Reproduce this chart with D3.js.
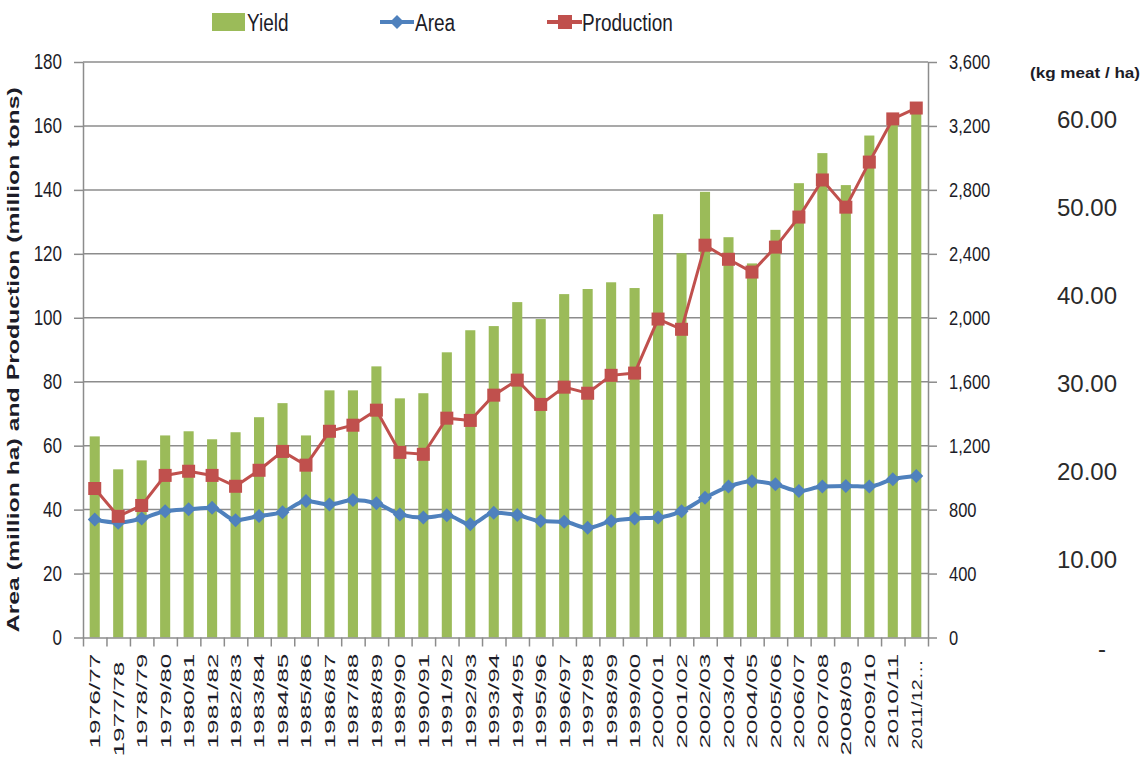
<!DOCTYPE html>
<html>
<head>
<meta charset="utf-8">
<script src="https://cdn.jsdelivr.net/npm/d3@7"></script>
<style>
  body { margin: 0; background: #fff; }
  svg { font-family: "Liberation Sans", Arial, sans-serif; }
  .tall { transform-box: fill-box; transform-origin: center; transform: scaleY(1.25); }
</style>
</head>
<body>
<svg id="chart" width="1144" height="759"></svg>
<script>
// data
const categories = ["1976/77","1977/78","1978/79","1979/80","1980/81","1981/82","1982/83","1983/84",
  "1984/85","1985/86","1986/87","1987/88","1988/89","1989/90","1990/91","1991/92","1992/93","1993/94",
  "1994/95","1995/96","1996/97","1997/98","1998/99","1999/00","2000/01","2001/02","2002/03","2003/04",
  "2004/05","2005/06","2006/07","2007/08","2008/09","2009/10","2010/11","2011/12…"];

// yield, on the right axis (0 - 3,600)
const yieldVals = [1258,1052,1108,1264,1290,1240,1284,1378,1466,1264,1546,1546,1696,1496,1528,1784,
  1922,1948,2098,1992,2148,2180,2222,2186,2648,2404,2788,2504,2340,2550,2842,3030,2830,3140,3220,3290];

// million ha
const areaVals = [36.9,35.9,37.2,39.5,40.1,40.6,36.7,38.0,39.2,42.7,41.6,43.0,42.0,38.5,37.5,38.2,
  35.4,39.0,38.3,36.4,36.2,34.3,36.4,37.2,37.5,39.5,43.7,47.2,48.9,47.9,45.8,47.2,47.4,47.2,49.5,50.5];

// million tons
const productionVals = [46.6,37.9,41.3,50.7,52.0,50.7,47.3,52.3,58.2,53.9,64.5,66.4,71.1,57.9,57.3,
  68.6,67.9,75.8,80.5,72.9,78.3,76.4,82.0,82.7,99.6,96.4,122.7,118.3,114.3,122.1,131.5,143.1,134.6,
  148.7,162.2,165.6];

const leftTicks = [0,20,40,60,80,100,120,140,160,180];
const rightTicks = [0,400,800,1200,1600,2000,2400,2800,3200,3600];
const meatTicks = [0,10,20,30,40,50,60];

const colors = {yield: "#9bbb59", area: "#4f81bd", production: "#c0504d", grid: "#8c8c8c", text: "#1c1c28"};

const svg = d3.select("#chart");
const plotLeft = 83, plotRight = 928, plotTop = 62, plotBottom = 637.5;

const x = d3.scaleBand().domain(categories).range([plotLeft, plotRight])
    .paddingInner(0.57).paddingOuter(0.285);
const cx = d => x(d) + x.bandwidth() / 2;
const yL = d3.scaleLinear().domain([0, 180]).range([plotBottom, plotTop]);
const yR = d3.scaleLinear().domain([0, 3600]).range([plotBottom, plotTop]);
const yM = d3.scaleLinear().domain([0, 60]).range([648, 119]);

// gridlines
svg.append("g").selectAll("line")
    .data(leftTicks.filter(d => d > 0))
    .join("line")
    .attr("x1", plotLeft).attr("x2", plotRight)
    .attr("y1", d => yL(d)).attr("y2", d => yL(d))
    .attr("stroke", colors.grid).attr("stroke-width", 1.5);

// bars
svg.append("g").selectAll("rect")
    .data(categories)
    .join("rect")
    .attr("x", d => x(d))
    .attr("width", x.bandwidth())
    .attr("y", (d, i) => yR(yieldVals[i]))
    .attr("height", (d, i) => plotBottom - yR(yieldVals[i]))
    .attr("fill", colors.yield);

// axes
function styleAxis(g) {
  g.select(".domain").attr("stroke", colors.grid).attr("stroke-width", 1.5);
  g.selectAll(".tick line").attr("stroke", colors.grid).attr("stroke-width", 1.5);
  g.selectAll("text").attr("fill", colors.text);
}

svg.append("g")
    .attr("transform", "translate(" + plotLeft + ",0)")
    .call(d3.axisLeft(yL).tickValues(leftTicks).tickSize(9).tickPadding(12).tickSizeOuter(0))
    .call(styleAxis)
    .selectAll("text").attr("font-size", 17).attr("class", "tall");

svg.append("g")
    .attr("transform", "translate(" + plotRight + ",0)")
    .call(d3.axisRight(yR).tickValues(rightTicks).tickSize(9).tickPadding(12).tickSizeOuter(0)
      .tickFormat(d3.format(",")))
    .call(styleAxis)
    .selectAll("text").attr("font-size", 16.5).attr("class", "tall");

// category boundary ticks
const xb = d3.scaleLinear().domain([0, categories.length]).range([plotLeft, plotRight]);
svg.append("g")
    .attr("transform", "translate(0," + plotBottom + ")")
    .call(d3.axisBottom(xb).ticks(categories.length).tickSize(9).tickSizeOuter(0).tickFormat(""))
    .call(styleAxis);

// category labels (a couple sit lower, as in the original)
const labelShift = {"1977/78": 8, "2008/09": 7, "2011/12…": 6};
svg.append("g").selectAll("text")
    .data(categories)
    .join("text")
    .attr("transform", d => "translate(" + cx(d) + "," + (plotBottom + 16 + (labelShift[d] || 0)) + ") rotate(-90)")
    .attr("dy", "0.36em")
    .attr("text-anchor", "end")
    .attr("font-size", 15)
    .attr("textLength", d => d.endsWith("…") ? 90 : 95)
    .attr("lengthAdjust", "spacingAndGlyphs")
    .attr("fill", colors.text)
    .text(d => d);

// area line (smoothed) and production line
const areaLine = d3.line().x((d, i) => cx(categories[i])).y(d => yL(d)).curve(d3.curveMonotoneX);
const prodLine = d3.line().x((d, i) => cx(categories[i])).y(d => yL(d));

svg.append("path").datum(areaVals)
    .attr("d", areaLine).attr("fill", "none")
    .attr("stroke", colors.area).attr("stroke-width", 4);
svg.append("g").selectAll("path")
    .data(areaVals)
    .join("path")
    .attr("transform", (d, i) => "translate(" + cx(categories[i]) + "," + yL(d) + ")")
    .attr("d", "M0,-7L7,0L0,7L-7,0Z")
    .attr("fill", colors.area);

svg.append("path").datum(productionVals)
    .attr("d", prodLine).attr("fill", "none")
    .attr("stroke", colors.production).attr("stroke-width", 3);
svg.append("g").selectAll("rect")
    .data(productionVals)
    .join("rect")
    .attr("x", (d, i) => cx(categories[i]) - 6.5)
    .attr("y", d => yL(d) - 6.5)
    .attr("width", 13).attr("height", 13)
    .attr("fill", colors.production);

// third axis: kg meat / ha
svg.append("text")
    .attr("x", 1030).attr("y", 78)
    .attr("font-size", 14).attr("font-weight", "bold")
    .attr("textLength", 110).attr("lengthAdjust", "spacingAndGlyphs")
    .attr("fill", colors.text)
    .text("(kg meat / ha)");
svg.append("g").selectAll("text")
    .data(meatTicks)
    .join("text")
    .attr("x", d => d === 0 ? 1106 : 1117)
    .attr("y", d => yM(d))
    .attr("dy", "0.36em")
    .attr("text-anchor", "end")
    .attr("font-size", 24)
    .attr("fill", "#2a2a2a")
    .text(d => d === 0 ? "-" : d3.format(".2f")(d));

// left axis title
svg.append("text")
    .attr("transform", "translate(19," + ((plotTop + plotBottom) / 2 + 10) + ") rotate(-90)")
    .attr("text-anchor", "middle")
    .attr("font-size", 17).attr("font-weight", "bold")
    .attr("textLength", 545).attr("lengthAdjust", "spacingAndGlyphs")
    .attr("fill", colors.text)
    .text("Area (million ha) and Production (million tons)");

// legend
const legend = svg.append("g");
legend.append("rect").attr("x", 212).attr("y", 13).attr("width", 33).attr("height", 18).attr("fill", colors.yield);
legend.append("text").attr("x", 247).attr("y", 29).attr("font-size", 19).attr("class", "tall")
    .attr("fill", colors.text).text("Yield");

legend.append("line").attr("x1", 380).attr("x2", 414).attr("y1", 22).attr("y2", 22)
    .attr("stroke", colors.area).attr("stroke-width", 4);
legend.append("path").attr("transform", "translate(397,22)").attr("d", "M0,-7L7,0L0,7L-7,0Z").attr("fill", colors.area);
legend.append("text").attr("x", 415).attr("y", 29).attr("font-size", 19).attr("class", "tall")
    .attr("fill", colors.text).text("Area");

legend.append("line").attr("x1", 547).attr("x2", 582).attr("y1", 22).attr("y2", 22)
    .attr("stroke", colors.production).attr("stroke-width", 4);
legend.append("rect").attr("x", 558).attr("y", 15).attr("width", 14).attr("height", 14).attr("fill", colors.production);
legend.append("text").attr("x", 582).attr("y", 29).attr("font-size", 19).attr("class", "tall")
    .attr("fill", colors.text).text("Production");
</script>
</body>
</html>
